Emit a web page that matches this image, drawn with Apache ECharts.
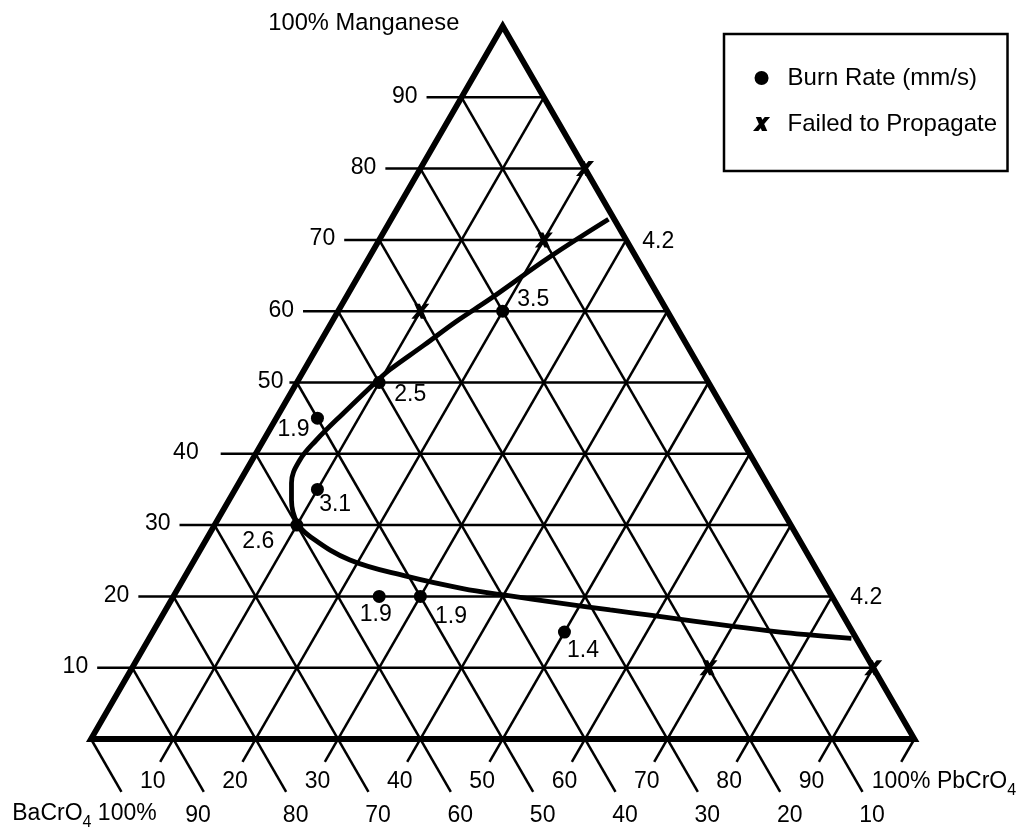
<!DOCTYPE html>
<html>
<head>
<meta charset="utf-8">
<title>Mn / PbCrO4 / BaCrO4 burn rate</title>
<script src="https://cdn.jsdelivr.net/npm/echarts@6/dist/echarts.min.js"></script>
<style>
  html, body { margin: 0; padding: 0; background: #fff; }
  #chart { width: 1029px; height: 829px; }
</style>
</head>
<body>
<div id="chart"></div>
<script>
// ---- composition grid (percent) and tick labels ----
const gridSteps = [10, 20, 30, 40, 50, 60, 70, 80, 90];
const mnTickLabels = ['10', '20', '30', '40', '50', '60', '70', '80', '90'];
const pbTickLabels = ['10', '20', '30', '40', '50', '60', '70', '80', '90'];
const baTickLabels = ['90', '80', '70', '60', '50', '40', '30', '20', '10'];
const apexLabel = '100% Manganese';
const baCornerLabel = 'BaCrO{sub|4} 100%';
const pbCornerLabel = '100% PbCrO{sub|4}';

// ---- burn-rate measurements: Mn %, PbCrO4 %, rate (mm/s) ----
const burnMn   = [60, 50, 45, 35, 30, 20, 20, 15];
const burnPb   = [20, 10,  5, 10, 10, 25, 30, 50];
const burnRate = [3.5, 2.5, 1.9, 3.1, 2.6, 1.9, 1.9, 1.4];

// ---- compositions that failed to propagate: Mn %, PbCrO4 % ----
const failMn = [80, 70, 60, 10, 10];
const failPb = [20, 20, 10, 70, 90];

// ---- propagation boundary curve: Mn %, PbCrO4 % ----
const curveMn = [72.9, 67.6, 61.7, 58.6, 55.2, 51.8, 50.4, 45.7, 41.9, 39.1, 35.9, 33.5, 30.3,
                 28.4, 25.1, 22.8, 21.1, 20.2, 19.0, 18.1, 17.3, 15.8, 15.0, 14.6, 14.1];
const curvePb = [26.4, 21.9, 17.6, 15.1, 12.8, 10.4, 9.7, 7.8, 6.4, 5.8, 6.4, 7.6, 9.9,
                 12.4, 18.9, 27.0, 34.6, 40.0, 47.9, 54.0, 59.7, 70.1, 76.2, 80.0, 85.3];
const curveEndRate = [4.2, 4.2];

// ---- drawing styles ----
const FONT = '"Liberation Sans", Arial, Helvetica, sans-serif';
const GRID_W = 2.5, FRAME_W = 5.8, CURVE_W = 4.8;
const MN_TICK = 4.25, PB_TICK = 3.2, BA_TICK = 7.4;      // tick lengths, composition units
const mnTickOverride = { 50: 0.9 };                      // short tick next to the "50"
const mnLabelGap = { 40: 22, 50: 6 };                    // px between tick and label
const baLabelDx = { 90: -5.7 };
const burnLabelShift = [[30.5, -11.5], [31, 12.4], [-24, 11.5], [17.7, 15.5],
                        [-38.5, 17], [-3.4, 18.5], [30.6, 19.8], [18.5, 18.2]];
const curveLabelShift = [[49.8, 22.5], [14.8, -41.1]];
const X_PATH = 'path://M20 0L58 0L102 100L64 100ZM84 0L122 0L38 100L0 100Z';

// ternary (Mn, PbCrO4) -> cartesian; BaCrO4 = 100 - Mn - PbCrO4
const S3 = Math.sqrt(3) / 2;
const tern = (mn, pb) => [pb + mn / 2, mn * S3];

// ---- grid lines, with their extensions out past the frame as ticks ----
const gridSegs = [];
const addSeg = (a, b) => gridSegs.push([a[0], a[1], b[0], b[1]]);
gridSteps.forEach(m => {                       // constant Mn (horizontal)
  const ext = mnTickOverride[m] !== undefined ? mnTickOverride[m] : MN_TICK;
  addSeg(tern(m, -ext), tern(m, 100 - m));
});
gridSteps.concat([100]).forEach(p => {         // constant PbCrO4
  addSeg(tern(-PB_TICK, p), tern(100 - p, p));
});
gridSteps.concat([100]).forEach(b => {         // constant BaCrO4
  addSeg(tern(-BA_TICK, 100 - b + BA_TICK), tern(100 - b, 0));
});

// ---- text items ----
const texts = [];
gridSteps.forEach((m, i) => {
  const ext = mnTickOverride[m] !== undefined ? mnTickOverride[m] : MN_TICK;
  const gap = mnLabelGap[m] !== undefined ? mnLabelGap[m] : 9;
  texts.push({ at: tern(m, -ext), text: mnTickLabels[i], dx: -gap, dy: -1, align: 'right' });
});
gridSteps.forEach((p, i) => {
  texts.push({ at: tern(-PB_TICK, p), text: pbTickLabels[i], dx: -7.4, dy: 19.9, align: 'center' });
});
gridSteps.forEach((p, i) => {
  const b = 100 - p;
  const dx = baLabelDx[b] !== undefined ? baLabelDx[b] : 9.5;
  texts.push({ at: tern(-BA_TICK, 100 - b + BA_TICK), text: baTickLabels[i], dx: dx, dy: 23.7, align: 'center' });
});
const subRich = { sub: { fontSize: 16, fontFamily: FONT, lineHeight: 16, verticalAlign: 'bottom', fill: '#000' } };
texts.push({ at: tern(100, 0), text: apexLabel, dx: -43.4, dy: -2.3, align: 'right', size: 23.7 });
texts.push({ at: tern(-BA_TICK, BA_TICK), text: baCornerLabel, dx: 35.2, dy: 21.5, align: 'right', rich: subRich, lineHeight: 34 });
texts.push({ at: tern(-PB_TICK, 100), text: pbCornerLabel, dx: -29.5, dy: 20, align: 'left', rich: subRich, lineHeight: 34 });
const curveEnds = [0, curveMn.length - 1];
curveEnds.forEach((k, i) => {
  texts.push({ at: tern(curveMn[k], curvePb[k]), text: curveEndRate[i].toFixed(1),
               dx: curveLabelShift[i][0], dy: curveLabelShift[i][1], align: 'center' });
});

const chart = echarts.init(document.getElementById('chart'), null, { renderer: 'canvas' });

chart.setOption({
  animation: false,
  backgroundColor: '#fff',
  grid: { left: 91, right: 114.6, top: 26, bottom: 90 },
  xAxis: { type: 'value', min: 0, max: 100, show: false },
  yAxis: { type: 'value', min: 0, max: 100 * S3, show: false },
  legend: {
    left: 724, top: 34, orient: 'vertical',
    padding: [32, 10.5, 35, 29],
    itemWidth: 42, itemHeight: 14, itemGap: 22,
    borderColor: '#000', borderWidth: 2.5,
    selectedMode: false,
    itemStyle: { opacity: 1 },
    textStyle: { fontSize: 24, color: '#000', fontFamily: FONT },
    data: ['Burn Rate (mm/s)', 'Failed to Propagate']
  },
  series: [
    {
      type: 'custom', name: 'grid', coordinateSystem: 'cartesian2d', clip: false, silent: true, z: 1,
      data: gridSegs,
      renderItem: (params, api) => {
        const a = api.coord([api.value(0), api.value(1)]);
        const b = api.coord([api.value(2), api.value(3)]);
        return { type: 'line', shape: { x1: a[0], y1: a[1], x2: b[0], y2: b[1] },
                 style: { stroke: '#000', lineWidth: GRID_W, lineCap: 'butt' } };
      }
    },
    {
      type: 'custom', name: 'frame', coordinateSystem: 'cartesian2d', clip: false, silent: true, z: 2,
      data: [[0, 0, 0, 100, 100, 0]],
      renderItem: (params, api) => {
        const pts = [0, 1, 2].map(k => api.coord(tern(api.value(2 * k), api.value(2 * k + 1))));
        return { type: 'polygon', shape: { points: pts },
                 style: { fill: 'none', stroke: '#000', lineWidth: FRAME_W, lineJoin: 'miter' } };
      }
    },
    {
      type: 'line', name: 'boundary', clip: false, silent: true, z: 3,
      smooth: 0.4, symbol: 'none',
      lineStyle: { color: '#000', width: CURVE_W, cap: 'butt' },
      data: curveMn.map((m, i) => tern(m, curvePb[i]))
    },
    {
      type: 'scatter', name: 'Burn Rate (mm/s)', clip: false, z: 4,
      symbol: 'circle', symbolSize: 13,
      itemStyle: { color: '#000', opacity: 1 },
      label: {
        show: true, position: 'inside', color: '#000', fontSize: 23, fontFamily: FONT,
        textBorderWidth: 0, textBorderColor: 'transparent',
        formatter: p => p.value[2].toFixed(1)
      },
      emphasis: { disabled: true },
      data: burnMn.map((m, i) => ({
        value: tern(m, burnPb[i]).concat([burnRate[i]]),
        label: { offset: burnLabelShift[i] }
      }))
    },
    {
      type: 'scatter', name: 'Failed to Propagate', clip: false, z: 4,
      symbol: X_PATH, symbolSize: [18, 15],
      itemStyle: { color: '#000', opacity: 1 },
      emphasis: { disabled: true },
      data: failMn.map((m, i) => tern(m, failPb[i]))
    },
    {
      type: 'custom', name: 'labels', coordinateSystem: 'cartesian2d', clip: false, silent: true, z: 6,
      data: texts.map(t => t.at),
      renderItem: (params, api) => {
        const t = texts[params.dataIndex];
        const p = api.coord([api.value(0), api.value(1)]);
        const style = { text: t.text, fill: '#000', fontSize: t.size || 23, fontFamily: FONT,
                        align: t.align, verticalAlign: 'middle' };
        if (t.rich) { style.rich = t.rich; style.lineHeight = t.lineHeight; }
        return { type: 'text', x: p[0] + t.dx, y: p[1] + t.dy, style: style };
      }
    }
  ]
});
</script>
</body>
</html>
